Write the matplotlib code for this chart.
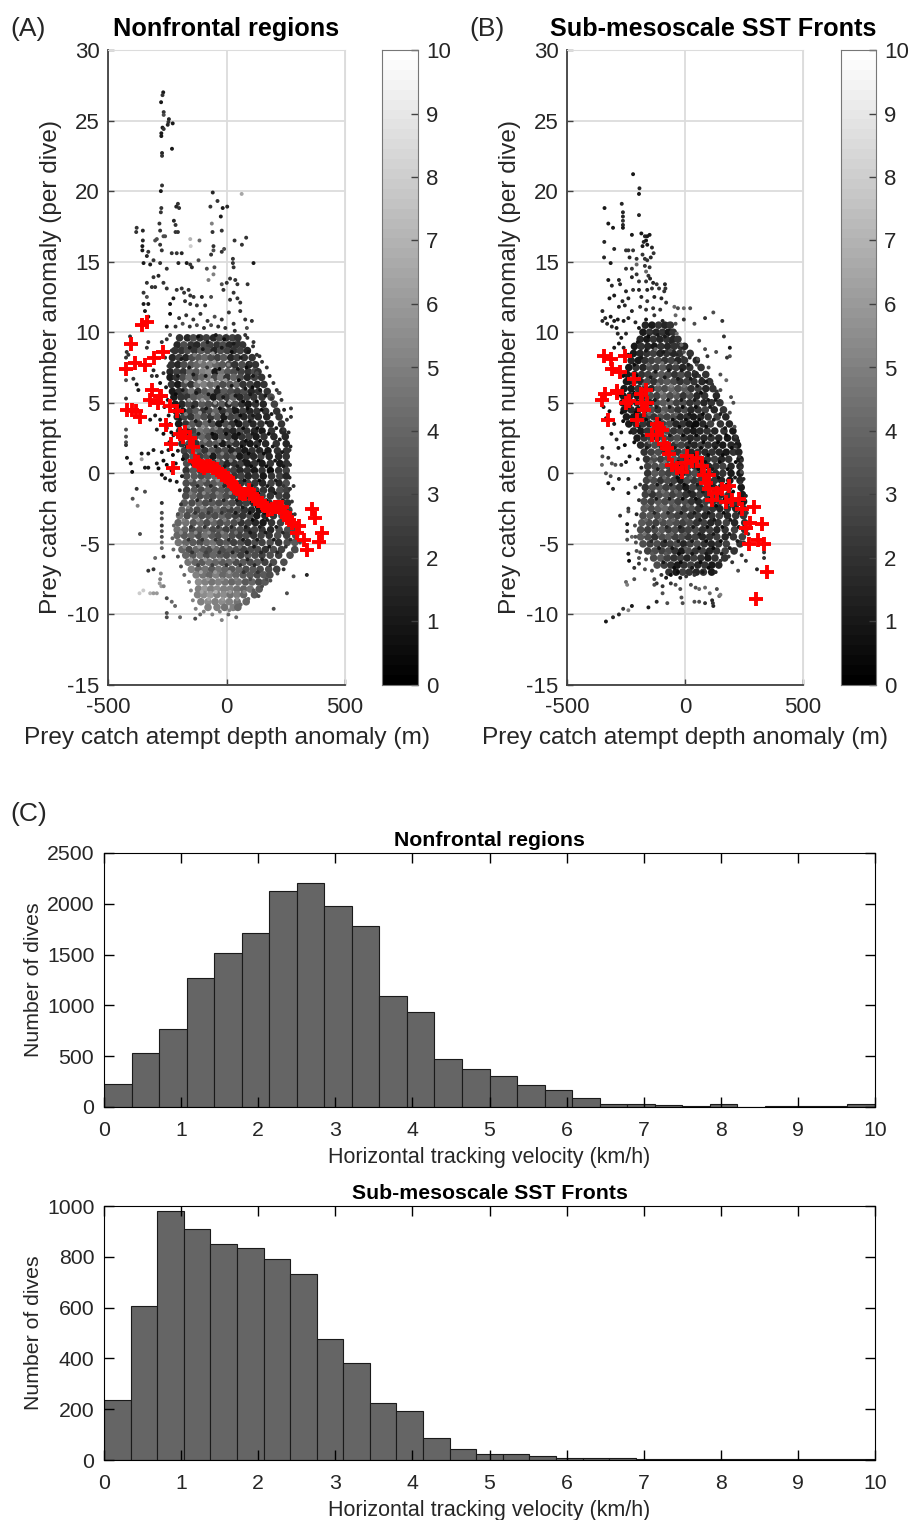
import matplotlib
matplotlib.use('Agg')
import matplotlib.pyplot as plt
import numpy as np

plt.rcParams['font.family'] = ['Liberation Sans', 'DejaVu Sans']
plt.rcParams['axes.unicode_minus'] = False

W, H = 910, 1520

# isolated dots: (depth, number, colour value)
A_sparse = [
(-267,27,1),(-270,26.8,2),(-276,26.3,1),(-265,25.6,2),(-265,25.4,3),(-243,25.1,1.5),(-245,24.9,2),(-248,24.7,1.5),(-227,24.8,1),(-270,24.5,1),
(-265,24.4,2),(-275,24.1,1),(-275,23.9,1),(-230,23,1),(-272,22.7,1.5),(-272,22.5,2),(-272,20.4,2),(-277,20,1),(-275,18.8,2),(-277,18.5,2),
(-58,19.9,1.5),(-38,19.3,2),(-68,18.9,2),(-16,18.8,1),(3,18.9,1.5),(-24,18.2,1),(-205,19.1,2),(-200,18.8,2),(-212,18.9,1.5),(64,19.8,6.5),
(-222,17.9,1.5),(-215,17.6,2),(-215,17.1,2),(-205,17.1,2),(-379,17.4,2),(-381,17.1,2),(-353,17.2,1.5),(-353,16.5,1.5),(-355,16.1,1),(-355,15.8,1),
(-330,15.7,2),(-336,15.4,1.5),(-350,14.9,1),(-322,14.8,1),(-308,15.1,2),(-283,17.7,2),(-280,17.2,2),(-301,16.5,3),(-294,16.6,3),(-280,16.2,2),
(-266,16.8,3),(-259,16.8,3),(-273,15.8,2),(-280,14.9,2),(-252,14.5,2),(-231,15.6,2),(-210,15.6,2),(-189,15.6,1.5),(-203,14.9,1.5),(-168,14.9,1),
(-153,14.8,2),(-146,14.6,1.5),(-153,16.6,7),(-151,16.1,8),(-114,16.5,4),(-118,15.1,3),(-83,14.5,3),(-51,14.6,3),(-55,14.1,5),(-76,13.7,5),
(-62,17.7,5),(-59,17.1,2),(-20,17.2,2),(-55,16.1,2),(-55,15.8,3),(-65,15.5,2),(-20,15.7,2),(-10,15.9,3),(34,16.5,2),(83,16.7,2),
(65,16.2,2),(27,15.2,2),(27,14.9,2),(30,14.6,2),(114,14.9,1),(89,13.4,2),(15,13.8,2),(1,13.5,2),(37,13.7,2),(46,13.4,2),
(-20,13.4,3),(-13,13,2),(30,12.8,2),(46,12.4,2),(15,12.3,2),(58,12.1,2),(-315,13.2,2),(-336,13.5,2),(-308,13.9,2),(-287,14,1.5),
(-266,13.5,2),(-301,13.2,2),(-350,12.8,2),(-336,12.5,3),(-350,12,1),(-330,12,1),(-252,13.1,2),(-224,12.4,1),(-238,12,1),(-210,13,2),
(-189,13.1,2),(-179,12.8,2),(-160,13,2),(-153,12.6,2),(-139,12.5,2),(-175,12.2,2),(-153,12,2),(-125,11.9,2),(-104,12.5,1.5),(-90,11.9,2),
(-65,12.5,3),(-344,11.5,1),(-238,11.3,0.5),(-330,11.1,1),(-252,10.4,1),(58,11.5,2),(79,10.9,2),(107,10.8,2),(86,10.3,3),(79,9.8,2),
(114,9.3,2),(51,9.3,2),(93,8.6,1),(139,8.3,2),(100,7.8,2),(128,7.1,3),(156,6.3,2),(220,5.7,3),(191,5.3,2),(224,5.7,3),
(272,4.6,2),(272,4,2),(241,3.1,2),(266,1.65,2),(283,-0.9,2),(339,-7.2,1.5),(255,-8.5,3),(199,-9.6,3),(283,-7.3,3),(241,-6.8,2),
(170,-7.5,3),(135,-8.7,3),(-424,3.1,3),(-424,2.6,3),(-424,2.2,3),(-424,2,2),(-420,1.1,1),(-404,0.7,1),(-398,0.1,0.5),(-358,1.4,1),
(-358,1,6),(-344,0.4,1),(-330,0.4,1),(-294,0.7,1),(-287,0.35,0.5),(-330,1.4,1),(-308,1.65,1),(-273,1.5,1),(-266,0.9,0.5),(-252,0.6,0.5),
(-273,-0.1,0.5),(-259,-0.35,1),(-238,-0.5,1),(-379,-1.1,2),(-344,-1.3,3),(-396,-1.8,3),(-375,-2.3,5),(-365,-4.3,3),(-273,-2.1,2),(-273,-2.8,3),
(-273,-3.2,3),(-273,-3.7,2),(-273,-4.1,3),(-273,-4.5,3),(-273,-4.9,4),(-273,-5.3,4),(-330,-6.9,2),(-308,-6.8,2),(-266,-5.9,2),(-301,-6,4),
(-277,-7.1,5),(-280,-7.5,5),(-282,-7.8,6),(-275,-8,6),(-265,-8,5),(-322,-8.5,7),(-308,-8.5,6),(-294,-8.5,6),(-367,-8.5,8),(-351,-8.3,8),
(-252,-8.85,3),(-231,-9.1,4),(-217,-9.4,4),(-252,-9.9,3),(-252,-10.2,3),(-196,-10.2,4),(-132,-10.3,3),(-20,-10.4,5),(41,-10.2,4),(8,-10,4),
(-111,-10,4),(-407,9.7,2),(-421,8.6,2),(-424,8.2,2),(-414,8.4,2),(-336,8.9,2),(-330,9.3,2),(-379,6.3,1),(-372,5.9,1),(-424,5.3,2),
(-424,6.6,3),(-393,6.7,2),(-308,7.3,1.5),(-294,6.9,1.5),(-273,9.3,2),(-252,9.5,2),(-259,8.2,2),(-238,9.8,3),(-280,6.4,1),(-266,7.1,2),
(-245,7.6,2),(-315,6.9,2),(-231,8.7,2),(-322,3.8,1),(-301,4.1,1),(-280,3.8,1),(-294,3.1,1),(-266,2.8,0.5),(-238,3.5,1),(-224,2.7,1),
(-245,1.65,1),(-200,11,2),(-170,11.2,2),(-140,10.9,2),(-110,11.3,2),(-80,10.8,2),(-50,11.1,3),(-20,10.9,2),(10,11.4,2),(30,10.6,2),
(-215,10.4,2),(-185,10.6,3),(-155,10.4,2),(-125,10.5,3),(-95,10.3,2),(-65,10.5,3),(-35,10.4,2),(-5,10.3,2),(35,10.1,2),
]

# fine dots on top of the dense part of panel A
A_specks = [
(-255,6.1,1),(-248,5.2,1),(-262,4.7,0.5),(-244,4.1,1),(-252,3.2,1),(-233,2.9,0.5),(-241,2.2,1),(-226,1.3,0.5),(-214,0.7,1),(-205,1.6,1),
(-232,0.2,1),(-210,-0.6,1),(-197,-1.2,1.5),(-188,-0.2,1),(-184,1,0.5),(-192,-2.2,2),(-205,-2.9,3),(-222,-3.7,4),(-228,-4.6,4),(-224,-5.4,4),
(-205,-5.9,3),(-192,-6.6,3),(-178,-7.2,4),(-158,-7.7,5),(-150,-8.3,5),(-142,-9,5),(-130,-9.6,5),(-96,-9.8,5),(-60,-10,5),(-28,-9.8,5),
(12,-9.7,5),(60,-9.3,4),(92,-8.9,4),(115,-8.3,3.5),(150,-8,3),(185,-7.6,3),(215,-7.1,3),(240,-6.2,3),(268,-5.9,3),(295,-5.5,3),
(310,-4.9,3),(300,-3.7,2.5),(288,-2.9,2),(276,-2,2),(268,-1.1,2),(266,-0.3,1.5),(268,0.6,2),(270,1.9,1.5),(262,2.9,1.5),(255,3.8,2),
(243,4.5,1.5),(232,5.2,2),(212,5.9,2),(198,6.4,2),(182,6.9,1.5),(170,7.5,2),(150,7.9,2),(128,8.4,2),(112,9,2),(88,9.6,2),
(-120,9.7,0.5),(-80,9.3,1),(-45,9.8,1),(-10,9.5,0.5),(30,9.2,1),(-155,8.9,1),(-135,8.4,5),(-100,8.8,1),(-58,8.5,6),(-20,8.9,1),
(22,8.6,0.5),(60,8.2,1),(-190,8.1,1),(-158,7.5,1),(-112,7.9,6),(-82,7.5,2),(-52,7.9,6),(-30,7.4,0.5),(8,7.7,5),(48,7.4,1),
(84,7.5,0.5),(112,6.9,1),(-205,6.9,1),(-172,6.5,6),(-140,7,1),(-115,6.5,7),(-88,6.9,1),(-62,6.6,7),(-36,6.1,1),(-4,6.6,6),
(22,6.2,1),(52,6.6,0.5),(80,6,1),(110,6.1,0.5),(142,5.9,1),(-214,5.6,0.5),(-185,5.9,1),(-158,5.2,6),(-128,5.7,1),(-102,5.2,6),
(-76,5.6,1),(-48,5,6),(-14,5.4,1),(12,5,6),(38,5.5,1),(70,5.1,0.5),(100,5.6,1),(128,5.1,0.5),(165,5.5,1),(-202,4.7,0.5),
(-172,4.2,5),(-142,4.7,1),(-112,4.3,6),(-86,4.6,1),(-58,4.2,5.5),(-28,4.6,0.5),(2,4.2,5),(30,4.6,1),(58,4.1,0.5),(88,4.6,0.5),
(112,4.1,1),(148,4.5,0.5),(190,4.2,1),(-196,3.8,1),(-160,3.3,5),(-130,3.7,1),(-100,3.3,5.5),(-72,3.7,1),(-44,3.2,5),(-18,3.7,0.5),
(12,3.3,5),(40,3.7,0.5),(70,3.2,0.5),(98,3.7,1),(130,3.2,0.5),(168,3.6,1),(210,3.2,1),(-182,2.8,1),(-148,2.3,5),(-118,2.8,1),
(-90,2.3,5),(-60,2.8,0.5),(-30,2.3,5),(-2,2.8,0.5),(24,2.3,5),(52,2.8,0.5),(82,2.3,0.5),(110,2.8,1),(142,2.3,0.5),(178,2.8,0.5),
(225,2.4,1),(-168,1.9,1),(-132,1.4,5),(-102,1.9,0.5),(-74,1.4,5),(-46,1.9,0.5),(-18,1.4,5),(10,1.9,0.5),(36,1.4,5),(64,1.9,0.5),
(94,1.4,0.5),(125,1.9,0.5),(158,1.4,0.5),(195,1.9,1),(235,1.5,1),(-158,0.9,5),(-120,0.5,1),(-92,0.9,5),(-64,0.5,1),(-36,0.9,5),
(-8,0.5,1),(18,0.9,5),(46,0.5,1),(74,0.9,1),(104,0.5,0.5),(135,0.9,0.5),(168,0.5,0.5),(205,0.9,1),(240,0.5,1),(-150,-0.5,5),
(-122,-0.9,1.5),(-94,-0.5,5),(-66,-0.9,1.5),(-38,-0.5,5.5),(-10,-0.9,1.5),(18,-0.5,5),(46,-0.9,1),(76,-0.5,0.5),(106,-0.9,1),(138,-0.5,0.5),
(172,-0.9,1),(208,-0.5,1),(240,-0.9,2),(-152,-1.4,5),(-124,-1.9,1.5),(-96,-1.4,5.5),(-68,-1.9,2),(-40,-1.4,5),(-12,-1.9,1.5),(16,-1.4,5),
(44,-1.9,1),(74,-1.4,1),(104,-1.9,0.5),(134,-1.4,0.5),(168,-1.9,1),(205,-1.4,1),(238,-1.9,1),(-162,-2.4,5),(-132,-2.8,2),(-104,-2.4,5.5),
(-76,-2.8,2),(-48,-2.4,5),(-20,-2.8,2),(8,-2.4,5),(38,-2.8,1),(68,-2.4,1),(98,-2.8,0.5),(128,-2.4,0.5),(160,-2.8,0.5),(196,-2.4,1),
(-182,-3.3,5),(-150,-3.8,2),(-120,-3.3,5.5),(-92,-3.8,2),(-64,-3.3,5.5),(-36,-3.8,2),(-8,-3.3,5),(20,-3.8,1.5),(50,-3.3,4.5),(80,-3.8,1),
(110,-3.3,0.5),(140,-3.8,1),(172,-3.3,1),(210,-3.8,1),(248,-3.3,1.5),(-192,-4.2,5.5),(-160,-4.7,2),(-130,-4.2,5.5),(-102,-4.7,2),(-74,-4.2,5.5),
(-46,-4.7,2),(-18,-4.2,5),(10,-4.7,1.5),(40,-4.2,4.5),(70,-4.7,1),(100,-4.2,1),(130,-4.7,1),(165,-4.2,1),(200,-4.7,1),(238,-4.2,1.5),
(270,-4.7,2),(-178,-5.2,5.5),(-145,-5.6,2),(-115,-5.2,6),(-86,-5.6,2.5),(-58,-5.2,5.5),(-30,-5.6,2),(-2,-5.2,5),(26,-5.6,1.5),(56,-5.2,4.5),
(86,-5.6,1),(116,-5.2,1),(146,-5.6,1.5),(180,-5.2,1),(214,-5.6,1.5),(250,-5.2,2),(-150,-6.1,6),(-120,-6.5,2.5),(-90,-6.1,6),(-60,-6.5,2.5),
(-30,-6.1,5.5),(0,-6.5,2),(28,-6.1,5),(58,-6.5,2),(88,-6.1,1.5),(118,-6.5,1.5),(150,-6.1,1.5),(185,-6.5,2),(-108,-7,6.5),(-78,-7.5,6),
(-48,-7,6),(-18,-7.5,5.5),(12,-7,6),(40,-7.5,5),(72,-7,2),(100,-7.5,3),(132,-7,2),(-105,-8.4,6.5),(-75,-8.9,6.5),(-45,-8.4,7),
(-15,-8.9,6),(15,-8.4,6),(45,-8.9,5.5),(75,-8.4,5),
]

# red averages, panel A
A_red_x = [-421,-400,-383,-365,-358,-337,-404,-424,-386,-344,-306,-266,-315,-276,-322,-287,-280,-238,-210,-255,-234,-224,-196,-175,-182,-153,-142,
           -132,-122,-114,-105,-97,-83,-69,-55,-41,-30,-20,-6,8,18,30,44,58,68,79,93,107,121,135,149,163,177,190,206,220,234,245,255,265,276,304,297,325,339,360,375,403,389]
A_red_y = [4.5,4.5,4.4,4.0,10.5,10.7,9.2,7.4,7.8,7.7,8.2,8.6,5.9,5.5,5.2,5,5.5,4.8,4.4,3.4,2.1,0.4,2.8,2.9,2.6,2.5,1.9,
           0.9,0.8,0.6,0.5,0.4,0.5,0.5,0.4,0.3,0.1,-0.1,-0.2,-0.35,-0.6,-0.9,-1.1,-1.4,-1.45,-1.5,-1.2,-1.5,-1.8,-1.95,-2.1,-2.3,-2.6,-2.5,-2.4,-2.4,-2.4,-2.8,-3.1,-3.3,-3.5,-3.7,-4.2,-4.7,-5.4,-2.5,-3.2,-4.2,-4.9]

# red averages, panel B
B_red_x = [-343,-315,-254,-308,-277,-216,-339,-287,-167,-188,-350,-287,-251,-237,-181,-160,-174,-325,-202,-120,-110,-96,-138,-117,-89,-78,-68,-54,-32,-14,3,10,31,52,71,80,102,88,100,116,137,158,186,172,200,229,240,292,257,275,328,271,311,335,349,302]
B_red_y = [8.3,8.1,8.35,7.4,7.2,6.7,5.6,5.8,5.9,5.6,5.2,5.7,5,5.1,5,5,4.5,3.8,3.8,3.5,3.2,3.1,2.7,2.7,2.1,1.8,1.4,0.6,0.4,0.1,0.7,1.2,0.9,1.1,0.5,-0.1,-0.1,-0.7,-1.1,-1.9,-1.4,-1.1,-0.9,-2,-1.9,-1.8,-2.5,-2.4,-3.9,-3.5,-3.6,-5,-4.7,-5,-7,-8.9]

# isolated dots
B_sparse = [
(-220,21.2,1),(-193,20.2,1.5),(-195,19.8,1),(-341,18.8,1),(-268,19.1,1.5),(-263,18.5,1.5),(-263,18.2,1.5),(-263,17.9,2),(-263,17.6,1.5),(-263,17.4,1),
(-195,18.3,1.5),(-325,17.7,1),(-305,17.4,1),(-342,16.4,1.5),(-225,16.9,1),(-185,17,1),(-170,16.8,1.5),(-160,16.8,1),(-150,16.9,1),(-175,16.4,1.5),
(-165,16.5,1),(-180,16.1,1),(-160,16.2,1),(-140,16,1.5),(-133,15.6,2),(-300,15.9,1.5),(-250,15.8,2),(-240,15.8,2),(-220,15.8,2),(-343,15.3,1.5),
(-315,14.9,1),(-235,15.3,1.5),(-205,15.2,2),(-180,15.5,2),(-170,15.2,2),(-160,15.1,2),(-145,15.3,1.5),(-225,14.5,2),(-250,14.5,2),(-205,14.8,4),
(-170,14.7,2),(-150,14.6,2),(-165,14.3,4),(-155,14,2),(-225,13.9,1.5),(-205,14.1,2),(-325,13.7,1),(-280,13.7,1.5),(-275,13.4,1.5),(-195,13.6,2),
(-165,13.6,2),(-148,13.8,1.5),(-135,13.5,1.5),(-120,13.4,2),(-85,13.4,1.5),(-83,13.1,2),(-310,13.3,1.5),(-250,12.9,1.5),(-220,13,2),(-195,13,1.5),
(-160,13,1.5),(-140,13.1,2),(-110,13.1,2),(-88,12.9,2),(-300,12.6,1),(-320,12.4,1),(-265,12.2,1.5),(-240,12.4,1.5),(-185,12.5,1.5),(-160,12.2,2),
(-130,12.5,1.5),(-100,12.4,1.5),(-80,12.1,2),(-280,11.8,1.5),(-255,11.9,1.5),(-225,11.5,1.5),(-190,11.8,2),(-165,11.6,2),(-135,11.7,2),(-105,11.6,2),
(-45,11.8,4),(-30,11.7,3),(-5,11.7,4),(22,11.7,3),(-40,11.2,4),(-350,11.5,1.5),(-338,11,1.5),(-315,11.1,1),(-300,10.8,1),(-285,10.9,1),
(-350,10.8,1.5),(-330,10.6,1.5),(-310,10.4,1.5),(-290,10.3,1),(-260,10.8,1),(-240,11,1.5),(-210,10.7,1.5),(-285,9.9,1.5),(-270,9.6,1),(-250,9.9,1.5),
(-300,8.9,1),(-280,9.2,1),(-260,8.9,1.5),(-15,9.1,4),(-5,8.6,3),(-35,9.9,4),(-40,10.6,3),(-5,10.9,2),(40,10.6,3),(85,11,2),
(120,11.4,3),(158,10.8,2),(165,9.7,2),(60,9.4,3),(85,8.8,3),(132,8.6,3),(190,8.9,1),(178,8.2,2),(190,8.3,3),(95,8.3,2),
(55,8.1,3),(50,7.7,3),(100,7.5,3),(150,7,3),(175,6.6,4),(85,7.1,2),(60,6.9,2),(115,6.3,2),(150,5.9,3),(135,5.8,2),
(195,5.4,3),(205,5,3),(190,4.3,3),(210,3.3,3),(215,2.6,2),(215,1.9,2),(230,1.2,2),(240,0.9,2),(240,0.1,3),(235,-0.7,2),
(-350,1.8,1.5),(-350,1.2,3),(-352,0.6,4),(-325,1.1,2),(-310,0.7,3),(-295,0.6,3),(-270,0.6,2),(-250,0.8,1),(-335,0.0,3),(-315,-0.2,3),
(-280,-0.4,1.5),(-240,-0.4,1.5),(-325,-0.7,1),(-305,-1.1,1.5),(-240,-1.4,1),(-210,-1,2),(-240,-2.5,2),(-240,-2.7,3),(-275,-3,2),(-245,-3.6,1),
(-245,-4.1,2),(-245,-4.7,3),(-225,-4.5,4),(-210,-4.5,3),(-240,-5.7,1),(-237,-6.2,0.5),(-205,-5.5,3),(-195,-6,3),(-195,-6.4,2),(-215,-6.7,2),
(-170,-6.8,3),(-250,-7.7,4),(-245,-7.9,5),(-215,-7.5,3),(-130,-7.5,3),(-120,-7.8,2),(-95,-8,2),(-95,-8.5,3),(-130,-7.9,3),(-60,-7.8,2),
(-40,-7.9,3),(-20,-8.2,3),(25,-7.9,3),(45,-8.1,3),(60,-8.2,4),(85,-8.1,4),(105,-8.5,4),(135,-8.2,3),(145,-8.7,4),(150,-8.6,5),
(-15,-8.8,3),(-10,-9.2,3),(40,-9.1,3),(60,-9.1,3),(85,-9.2,2),(115,-9.0,1.5),(120,-9.4,1.5),(118,-9.2,2),(-120,-9.1,1.5),(-75,-9.2,3),
(-155,-9.5,1),(-225,-9.4,1),(-240,-9.7,5),(-262,-9.6,2),(-280,-10,1.5),(-305,-10.2,1.5),(-335,-10.5,1),(200,-6.3,2),(225,-6.9,3),(305,-6.8,1.5),
(335,-5.6,2),(335,-6,2),(258,-6.2,2),(240,-5.8,2),
]

# fine dots on top of the dense part of panel B
B_specks = [
(-345,4.7,1),(-335,3.9,1),(-320,4.4,0.5),(-300,3.5,1),(-312,2.8,1),(-290,2.4,1.5),(-270,2.9,1),(-282,1.8,1),(-255,2,0.5),(-235,1.2,1),
(-262,3.7,0.5),(-232,2.9,1),(-215,2.2,0.5),(-200,1,1),(-185,0.4,1),(-190,-0.8,2),(-195,-1.9,2),(-205,-2.9,1.5),(-212,-3.7,3),(-208,-4.9,3),
(-190,-5.6,3),(-165,-6.1,3),(-140,-6.9,3),(-100,-7.2,2),(-80,-7.4,1),(-20,-7.4,1),(5,-7.3,2),(40,-7.2,2),(75,-7,1),(130,-7,1.5),
(150,-6.2,2),(185,-5.9,2),(215,-5.4,2),(250,-4.9,2),(268,-4.3,2),(262,-2.8,2),(258,-1.6,1.5),(248,-0.4,1.5),(238,0.4,2),(225,2.3,1.5),
(-165,10.9,1),(-130,11.2,2),(-95,10.8,1.5),(-70,10.6,2),(-195,10.3,1),(-155,9.7,0.5),(-115,9.8,1),(-85,9.7,1),(-60,9.3,1.5),(-32,9.1,2),
(-200,9.3,1),(-165,8.7,1),(-125,8.8,4),(-92,8.6,1),(-62,8.7,3),(-35,8.4,1.5),(-8,8.2,2),(20,8.2,1.5),(-240,8.4,1),(-215,7.7,0.5),
(-185,8.2,1),(-155,7.7,4),(-125,7.2,1),(-96,7.8,4.5),(-68,7.3,1),(-40,7.8,4),(-14,7.3,1),(14,7.7,1),(38,7.2,2),(70,6.7,1.5),
(-262,6.9,0.5),(-235,6.4,1),(-205,6.9,0.5),(-175,6.3,4),(-145,6.8,1),(-115,6.3,5),(-86,6.8,1),(-58,6.2,5),(-30,6.7,1),(-4,6.2,4.5),
(24,6.7,1),(52,6.2,1),(90,6.5,1),(-275,5.6,0.5),(-245,5.2,1),(-215,5.7,0.5),(-185,5.2,1),(-158,5.7,4),(-128,5.2,1),(-100,5.7,5),
(-72,5.2,1),(-44,5.7,4.5),(-16,5.2,1),(12,5.7,4),(40,5.2,1),(68,5.7,0.5),(98,5.2,1),(130,5.2,1),(-268,4.3,0.5),(-240,4.7,1),
(-210,4.3,0.5),(-182,4.7,1),(-152,4.2,4),(-122,4.7,1),(-94,4.3,4.5),(-66,4.7,1),(-38,4.2,4),(-10,4.7,0.5),(18,4.2,1),(46,4.7,0.5),
(76,4.2,0.5),(106,4.7,1),(150,4.2,1),(-225,3.7,0.5),(-195,3.3,1),(-165,3.8,0.5),(-136,3.3,4),(-108,3.8,1),(-80,3.3,4),(-52,3.8,0.5),
(-24,3.3,0.5),(4,3.8,0.5),(32,3.3,0.5),(60,3.8,0.5),(90,3.3,0.5),(122,3.8,1),(170,3.2,1),(-180,2.7,1),(-150,2.2,4),(-120,2.7,1),
(-92,2.2,4),(-64,2.7,1),(-36,2.2,4),(-8,2.7,0.5),(20,2.2,1),(48,2.7,0.5),(78,2.2,0.5),(108,2.7,1),(140,2.2,0.5),(175,2.7,0.5),
(-162,1.8,1),(-130,1.2,4),(-100,1.8,1),(-72,1.3,4.5),(-44,1.8,1),(-16,1.3,4),(12,1.8,0.5),(40,1.3,1),(68,1.8,0.5),(98,1.3,0.5),
(128,1.8,1),(160,1.3,0.5),(198,1.8,0.5),(-145,0.8,4),(-115,0.3,1),(-85,0.8,4.5),(-57,0.3,1),(-29,0.8,0.5),(0,0.3,0.5),(28,0.8,1),
(56,0.3,0.5),(86,0.8,0.5),(116,0.3,1),(146,0.8,0.5),(180,0.3,0.5),(215,0.8,0.5),(-148,-0.3,4),(-118,-0.8,1),(-88,-0.3,4),(-60,-0.8,1),
(-32,-0.3,0.5),(-4,-0.8,0.5),(24,-0.3,4),(52,-0.8,1),(82,-0.3,0.5),(112,-0.8,1),(142,-0.3,0.5),(176,-0.8,0.5),(212,-0.3,1),(-152,-1.3,4),
(-122,-1.8,1),(-94,-1.3,4.5),(-66,-1.8,1),(-38,-1.3,4),(-10,-1.8,0.5),(18,-1.3,1),(46,-1.8,0.5),(76,-1.3,1),(106,-1.8,0.5),(136,-1.3,1),
(168,-1.8,0.5),(204,-1.3,0.5),(228,-1.8,0.5),(-160,-2.3,4),(-130,-2.8,1.5),(-100,-2.3,4.5),(-72,-2.8,1.5),(-44,-2.3,4),(-16,-2.8,1),(12,-2.3,4),
(40,-2.8,1),(70,-2.3,1),(100,-2.8,0.5),(132,-2.3,0.5),(164,-2.8,0.5),(198,-2.3,1),(232,-2.8,1),(-165,-3.3,4),(-135,-3.8,1.5),(-105,-3.3,4),
(-78,-3.8,1.5),(-50,-3.3,4),(-22,-3.8,1),(6,-3.3,3.5),(34,-3.8,1),(64,-3.3,1),(94,-3.8,0.5),(124,-3.3,1),(158,-3.8,0.5),(192,-3.3,1),
(228,-3.8,1),(-172,-4.3,4.5),(-142,-4.8,1.5),(-112,-4.3,4),(-84,-4.8,1),(-56,-4.3,4),(-28,-4.8,1),(0,-4.3,3.5),(30,-4.8,1),(60,-4.3,1),
(90,-4.8,0.5),(120,-4.3,1),(152,-4.8,0.5),(188,-4.3,1),(222,-4.8,1),(-140,-5.7,3.5),(-110,-5.3,1),(-82,-5.7,3.5),(-54,-5.3,1),(-26,-5.7,0.5),
(2,-5.3,3.5),(30,-5.7,1),(60,-5.3,0.5),(90,-5.7,1),(120,-5.3,0.5),(155,-5.7,1),(190,-5.3,1),(-92,-6.3,1),(-46,-6.7,0.5),(-18,-6.3,0.5),
(30,-6.7,1),(66,-6.3,0.5),(100,-6.7,0.5),(-60,-7.2,0.5),(-30,-7,0.5),
]

# dense part of panel A, read row by row: (number, [(depth, colour value), ...])
# the dots overlap here so they are drawn bigger than the isolated ones
A_core = [
(9.6,[(-198,2),(-165,1.5),(-140,3),(-112,2),(-85,2.5),(-55,1.5),(-30,3),(-2,2),(25,2.5),(48,2)]),
(9.1,[(-208,1.5),(-180,3),(-150,2),(-125,1.5),(-95,3),(-70,2.5),(-40,2),(-15,3),(12,1.5),(40,2),(68,2)]),
(8.7,[(-218,2),(-190,2),(-165,3),(-135,2),(-108,3.5),(-80,3),(-52,1.5),(-25,3),(3,2.5),(30,2),(58,2.5),(88,1.5)]),
(8.2,[(-228,1.5),(-200,2.5),(-172,1.5),(-145,3),(-118,3.5),(-92,4),(-65,3),(-38,2.5),(-12,3.5),(18,1.5),(45,2.5),(75,2),(108,2)]),
(7.7,[(-232,2),(-205,1.5),(-180,3),(-150,3.5),(-125,4),(-98,4.5),(-70,5),(-45,4),(-18,3.5),(10,3),(35,2),(65,3),(95,1.5),(122,2)]),
(7.2,[(-238,1.5),(-210,2.5),(-182,2),(-155,4),(-128,3.5),(-100,5),(-75,5.5),(-48,1),(-22,4.5),(5,3.5),(32,3),(62,2.5),(92,2),(118,3),(133,2)]),
(6.8,[(-238,1),(-212,2),(-185,3),(-158,4.5),(-130,3),(-105,4),(-78,5),(-50,3),(-25,5),(2,2),(30,4),(58,3),(88,1.5),(118,2.5),(148,2)]),
(6.3,[(-232,2),(-205,1),(-178,3),(-150,2),(-124,4.5),(-96,5),(-68,4),(-42,4.5),(-15,3),(14,3.5),(42,4),(70,2),(100,2.5),(130,1.5),(158,2)]),
(5.8,[(-228,1),(-200,2),(-175,3),(-148,4.5),(-120,2),(-92,3.5),(-65,4.5),(-38,1.5),(-10,3.5),(18,3),(46,2.5),(75,3),(105,1.5),(135,2),(172,2)]),
(5.4,[(-222,1),(-192,2),(-165,2),(-138,3.5),(-110,4),(-82,4),(-55,1),(-28,3),(0,2.5),(28,4),(56,1.5),(85,2.5),(115,2),(150,2),(188,3)]),
(4.9,[(-216,1),(-188,1.5),(-160,3),(-132,2),(-104,3.5),(-76,3),(-48,2.5),(-20,3.5),(8,1.5),(36,3),(64,2),(92,1),(122,2),(155,1.5),(202,2.5)]),
(4.4,[(-212,1.5),(-184,1),(-156,2.5),(-128,3.5),(-100,2),(-72,3),(-44,4),(-16,2),(12,3),(40,1),(68,2.5),(98,1.5),(128,2),(165,2),(212,2)]),
(4.0,[(-208,1.5),(-178,2.5),(-150,2),(-122,4),(-94,3),(-66,2),(-38,3.5),(-10,1),(18,2.5),(46,3),(74,1.5),(104,2),(134,1.5),(170,1.5),(222,2)]),
(3.5,[(-202,1),(-172,2),(-144,3.5),(-116,2.5),(-88,4),(-60,3),(-32,1),(-4,3),(24,2),(52,1),(82,2.5),(112,1.5),(145,2),(185,1.5),(232,2)]),
(3.0,[(-198,2),(-168,1.5),(-140,2.5),(-112,4.5),(-84,4),(-56,3.5),(-28,3),(0,2),(28,1.5),(56,3),(86,2),(118,1.5),(150,1),(190,2),(238,1.5)]),
(2.6,[(-192,2.5),(-162,2),(-132,3),(-104,4),(-76,3),(-48,1),(-20,3),(8,2.5),(36,1),(64,2),(94,2.5),(125,1),(158,2),(200,1.5),(248,1.5)]),
(2.1,[(-188,2),(-158,3),(-128,2),(-100,3.5),(-72,3),(-44,3.5),(-16,1),(12,3),(40,2),(70,1.5),(100,1),(130,2),(165,1.5),(210,2),(252,1.5)]),
(1.6,[(-178,2.5),(-148,3),(-118,3.5),(-90,2),(-62,3.5),(-34,2.5),(-6,3),(22,1.5),(50,2),(78,1),(108,2),(140,1.5),(175,1),(215,2),(253,2)]),
(1.2,[(-172,2),(-142,3.5),(-112,2.5),(-84,3),(-56,1),(-28,3),(0,2.5),(28,3),(56,1),(84,2),(114,1.5),(145,2.5),(180,1.5),(220,1.5),(252,2)]),
(0.7,[(-168,3),(-138,2),(-108,3),(-80,3.5),(-52,2.5),(-24,3),(4,1.5),(32,2),(60,2.5),(88,1),(118,2),(150,1),(185,2),(225,1),(253,2)]),
(0.2,[(-170,2),(-140,3.5),(-110,2.5),(-82,3),(-54,3),(-26,2),(2,3),(30,2.5),(58,1.5),(88,2),(118,1),(150,2),(185,0.5),(220,2),(252,2.5)]),
(-0.2,[(-168,3),(-136,3.5),(-106,3),(-78,3.5),(-50,4),(-22,3),(6,2.5),(34,2),(62,2.5),(92,1.5),(122,2),(155,1),(190,2),(225,2.5),(252,1.5)]),
(-0.7,[(-170,3),(-140,3),(-110,4),(-82,3),(-54,3.5),(-26,4),(2,2),(30,3),(60,2),(90,2.5),(120,2),(152,1.5),(188,2.5),(222,1.5),(252,3)]),
(-1.2,[(-168,2.5),(-136,3.5),(-106,3),(-78,4),(-50,3),(-22,3.5),(6,3),(34,2.5),(64,2),(94,1.5),(124,2.5),(156,2),(190,1.5),(225,3),(253,2.5)]),
(-1.6,[(-172,3),(-142,4),(-112,3),(-84,3.5),(-56,3),(-28,4),(0,3),(28,2.5),(58,3),(88,2),(118,1.5),(150,2.5),(185,2),(222,2.5),(253,2)]),
(-2.1,[(-178,3.5),(-146,3),(-116,4),(-88,3),(-60,3.5),(-32,3),(-4,3.5),(24,3),(54,2),(84,2.5),(114,1.5),(146,1),(180,2),(220,3),(258,2)]),
(-2.6,[(-188,4),(-156,3.5),(-124,3),(-96,4),(-68,3),(-40,4),(-12,3),(16,2.5),(46,3),(76,2),(106,1.5),(138,1),(172,2),(210,2.5),(240,3),(263,2.5)]),
(-3.0,[(-198,4.5),(-166,3),(-134,4),(-104,3),(-76,3.5),(-48,3),(-20,4),(8,3),(38,2.5),(68,2),(98,3),(128,1),(162,1.5),(198,2),(234,3),(268,2)]),
(-3.5,[(-204,4),(-172,4.5),(-140,3.5),(-110,4),(-82,3),(-54,4),(-26,3),(2,3.5),(32,3),(62,2),(92,2.5),(122,1.5),(154,1),(190,2),(228,2.5),(278,3)]),
(-4.0,[(-208,4.5),(-176,4),(-144,3),(-114,3.5),(-86,4),(-58,3),(-30,3.5),(-2,2.5),(28,3),(58,3),(88,2),(118,2.5),(150,2),(186,1.5),(222,3),(258,3),(288,3)]),
(-4.4,[(-208,4),(-178,3.5),(-148,4),(-118,3),(-90,4.5),(-62,3.5),(-34,3),(-6,4),(24,3),(54,2.5),(84,3),(114,2),(146,2.5),(180,2),(216,3),(254,2.5),(292,3)]),
(-4.9,[(-203,4.5),(-172,4),(-142,3.5),(-112,3),(-84,4),(-56,4.5),(-28,3),(0,3.5),(30,2.5),(60,3),(90,2),(120,3),(150,2.5),(184,3),(220,2),(256,3),(288,3.5)]),
(-5.4,[(-188,4),(-158,3),(-128,4),(-100,3.5),(-72,3),(-44,4),(-16,3),(12,3.5),(42,3),(72,2.5),(102,3),(132,3),(164,2),(198,3),(232,2.5),(288,3)]),
(-5.8,[(-172,4),(-142,3.5),(-112,4.5),(-84,3),(-56,4),(-28,3.5),(0,3),(30,4),(60,2.5),(90,3.5),(120,3),(150,2.5),(184,3),(220,2.5),(268,3)]),
(-6.3,[(-162,4.5),(-132,4),(-102,3.5),(-74,4.5),(-46,4),(-18,3.5),(10,4),(40,3),(70,3.5),(100,3),(130,3.5),(162,2.5),(198,3),(242,3)]),
(-6.8,[(-148,5),(-118,4),(-90,4.5),(-62,3.5),(-34,4.5),(-6,4),(22,3.5),(52,4),(82,3),(112,3.5),(142,3),(178,3),(212,2.5)]),
(-7.2,[(-128,5),(-100,4.5),(-72,4),(-44,5),(-16,4),(12,4.5),(40,4),(70,3.5),(100,3.5),(130,3),(158,3.5),(183,3)]),
(-7.7,[(-118,5.5),(-90,5),(-62,4.5),(-34,5),(-6,4.5),(22,4),(50,4.5),(80,3.5),(108,4),(136,3),(163,3.5)]),
(-8.2,[(-118,5),(-92,6),(-66,5),(-40,5.5),(-12,5),(16,5),(44,4.5),(72,4),(100,4.5),(138,3.5)]),
(-8.6,[(-122,5),(-96,5.5),(-68,6),(-40,5),(-12,5.5),(16,4.5),(44,5),(72,4),(118,3.5)]),
(-9.1,[(-108,5),(-78,5.5),(-48,5),(-18,5.5),(12,5),(45,4.5),(83,4)]),
(-9.5,[(-78,5),(-40,5),(-8,4.5),(28,5),(48,4)]),
]

# dense part of panel B, same layout
B_core = [
(10.5,[(-168,1.5),(-140,1),(-112,2),(-85,1.5),(-62,2)]),
(10.0,[(-178,1),(-150,2),(-122,1.5),(-95,2),(-70,1),(-50,2)]),
(9.5,[(-190,1.5),(-162,1),(-134,2),(-106,1.5),(-78,2),(-50,1.5),(-30,2)]),
(9.0,[(-214,1),(-186,2),(-158,1.5),(-130,1),(-102,2),(-74,1.5),(-46,2),(-18,2),(-2,1.5)]),
(8.5,[(-218,1),(-190,1.5),(-162,2),(-134,2.5),(-106,1.5),(-78,2),(-50,1.5),(-22,2),(22,2)]),
(8.0,[(-228,1.5),(-198,1),(-170,2),(-142,2.5),(-114,3),(-86,2),(-58,2.5),(-30,1.5),(-2,2),(48,1.5)]),
(7.5,[(-238,1),(-208,2),(-178,1.5),(-150,3),(-122,2.5),(-94,3.5),(-66,2),(-38,2.5),(-10,1.5),(20,2),(68,2)]),
(7.0,[(-244,1),(-214,1.5),(-184,2),(-156,2.5),(-128,3),(-100,3.5),(-72,3),(-44,2),(-16,3),(12,2),(44,1.5),(88,2)]),
(6.5,[(-248,1),(-218,2),(-188,1.5),(-160,3),(-132,2),(-104,3),(-76,3.5),(-48,3),(-20,2),(8,2.5),(38,2),(72,1.5),(104,2)]),
(6.0,[(-258,1),(-228,1),(-198,2),(-170,2.5),(-142,1.5),(-114,3.5),(-86,3),(-58,4),(-30,3),(-2,3.5),(26,2),(56,2.5),(88,1.5),(118,2)]),
(5.5,[(-263,1),(-233,1.5),(-203,1),(-175,2),(-147,3),(-119,2.5),(-91,4),(-63,3),(-35,3.5),(-7,2),(21,3),(51,1.5),(83,2),(133,1.5)]),
(5.0,[(-264,1),(-234,1),(-204,1.5),(-176,2.5),(-148,1.5),(-120,3),(-92,3.5),(-64,4),(-36,2.5),(-8,3),(20,2),(50,2.5),(80,1.5),(112,2),(148,2)]),
(4.5,[(-258,1),(-228,1.5),(-198,1),(-170,2),(-142,3),(-114,2),(-86,3.5),(-58,3),(-30,2),(-2,3),(26,1.5),(56,2),(86,2.5),(124,1.5),(163,2)]),
(4.0,[(-248,1),(-218,1),(-188,1.5),(-160,2.5),(-132,2),(-104,3),(-76,2.5),(-48,3),(-20,1.5),(8,2),(36,1),(66,1.5),(98,2),(136,2.5),(173,1.5)]),
(3.5,[(-238,1),(-208,1.5),(-178,2),(-150,1.5),(-122,3),(-94,2.5),(-66,3),(-38,1.5),(-10,2),(18,1),(46,0.5),(76,1.5),(108,2.5),(150,2),(188,1.5)]),
(3.0,[(-218,1.5),(-188,1),(-160,2),(-132,2.5),(-104,2),(-76,3),(-48,2),(-20,2.5),(8,1.5),(36,1),(64,1.5),(94,2),(126,1.5),(165,2),(203,1)]),
(2.5,[(-203,1),(-173,2),(-145,2.5),(-117,2),(-89,3),(-61,2.5),(-33,3),(-5,2),(23,1.5),(51,2),(81,1.5),(111,2),(143,1.5),(180,1),(213,1.5)]),
(2.0,[(-188,1.5),(-158,2),(-128,3),(-100,2.5),(-72,3),(-44,2),(-16,2.5),(12,2),(40,1.5),(68,2.5),(98,2),(128,1.5),(160,1),(195,1.5),(223,1)]),
(1.5,[(-173,2),(-143,2.5),(-113,3),(-85,2),(-57,3),(-29,2),(-1,3),(27,1.5),(55,2),(85,1.5),(115,2),(145,1.5),(175,1),(205,2),(228,1.5)]),
(1.0,[(-163,2),(-133,3),(-103,2.5),(-75,3),(-47,3.5),(-19,2.5),(9,2),(37,2.5),(65,1.5),(95,2),(125,2.5),(155,1.5),(185,2),(233,1)]),
(0.5,[(-158,2.5),(-128,3),(-98,3.5),(-70,3),(-42,2.5),(-14,1.5),(14,3),(42,2),(70,2.5),(100,1.5),(130,2),(160,2.5),(195,1.5),(233,1.5)]),
(0.0,[(-158,2),(-128,3.5),(-98,3),(-70,2.5),(-42,3),(-14,1),(14,2.5),(42,3),(70,1.5),(100,2),(130,1.5),(160,2),(195,1),(233,1)]),
(-0.5,[(-163,2.5),(-133,3),(-103,2),(-75,3),(-47,2.5),(-19,1),(9,3),(37,2),(65,2.5),(95,1.5),(125,2),(155,1.5),(190,1),(233,1.5)]),
(-1.0,[(-168,2),(-138,3),(-108,3.5),(-80,2.5),(-52,3),(-24,2),(4,1),(32,2.5),(62,2),(92,2.5),(122,1.5),(152,2),(185,1.5),(238,1)]),
(-1.5,[(-168,2.5),(-138,2),(-108,3),(-80,3.5),(-52,2.5),(-24,3),(4,2),(32,1.5),(62,2.5),(92,2),(122,2.5),(152,1.5),(185,2),(243,1)]),
(-2.0,[(-173,3),(-143,2.5),(-113,3.5),(-85,3),(-57,3.5),(-29,2.5),(-1,3),(27,2),(57,1.5),(87,2.5),(117,2),(147,2.5),(180,1.5),(215,2),(248,1)]),
(-2.5,[(-173,3.5),(-143,3),(-113,3.5),(-85,4),(-57,3),(-29,3.5),(-1,2.5),(27,3),(57,2),(87,2.5),(117,2),(147,1.5),(180,2),(215,1.5),(248,2)]),
(-3.0,[(-178,3),(-148,3.5),(-118,3),(-88,3.5),(-60,3),(-32,2.5),(-4,3),(24,2),(54,2.5),(84,1.5),(114,2),(146,2.5),(180,1.5),(215,2),(248,2)]),
(-3.5,[(-183,3.5),(-153,3),(-123,2.5),(-93,3),(-65,3.5),(-37,3),(-9,2.5),(19,3),(49,2),(79,2.5),(109,1.5),(140,2),(175,2.5),(210,1.5),(253,2)]),
(-4.0,[(-188,3),(-158,2.5),(-128,3),(-98,3.5),(-70,2.5),(-42,3),(-14,2),(14,2.5),(44,3),(74,2),(104,2.5),(135,1.5),(170,2),(210,2.5),(253,2)]),
(-4.5,[(-188,3.5),(-158,3),(-128,2),(-98,3),(-70,3.5),(-42,2.5),(-14,3),(14,2),(44,2.5),(74,1.5),(104,2),(135,2.5),(170,1.5),(205,2),(243,2.5)]),
(-5.0,[(-178,3),(-148,2.5),(-118,3),(-90,2),(-62,2.5),(-34,3),(-6,1.5),(22,2.5),(52,3),(82,2),(112,1.5),(142,2),(175,2.5),(233,2)]),
(-5.5,[(-158,2.5),(-128,3),(-98,2.5),(-70,3),(-42,2),(-14,1),(14,3),(44,2),(74,2.5),(104,1.5),(134,2),(170,2.5),(208,2)]),
(-6.0,[(-133,3),(-103,3.5),(-75,2.5),(-47,2),(-19,2.5),(9,1.5),(37,2.5),(67,2),(97,1),(127,2),(168,2)]),
(-6.5,[(-118,3),(-88,2.5),(-60,2),(-32,1),(-4,2),(24,2.5),(54,1.5),(84,2),(114,1),(143,1.5)]),
(-7.0,[(-68,2),(-38,1),(-10,2.5),(18,2),(48,1.5),(78,2),(113,1)]),
]

# histogram counts per bin
nonfrontal_counts = [230,535,770,1270,1515,1715,2125,2200,1975,1780,1090,935,475,370,305,215,170,85,30,30,15,5,30,2,10,8,12,28]
fronts_counts = [235,608,980,910,850,835,790,733,477,383,225,192,85,42,25,22,15,8,6,9,3,3,3,2,2,2,2,2,5]

scatter_titles = ['Nonfrontal regions', 'Sub-mesoscale SST Fronts']
hist_titles = ['Nonfrontal regions', 'Sub-mesoscale SST Fronts']
panel_letters = ['(A)', '(B)', '(C)']


def px_axes(left, top, right, bottom):
    return fig.add_axes([left / W, 1 - bottom / H, (right - left) / W, (bottom - top) / H])


fig = plt.figure(figsize=(W / 100, H / 100), dpi=100)

panels = [(108, 345, 382, 418, A_core, A_sparse, A_specks, A_red_x, A_red_y),
          (567, 803, 841, 876, B_core, B_sparse, B_specks, B_red_x, B_red_y)]
title_centres = [226, 713]
dark = '#404040'
text_c = '#262626'
for i, (l, r, cl, cr, core, sparse, specks, red_x, red_y) in enumerate(panels):
    ax = px_axes(l, 50, r, 685)
    ax.set_xlim(-500, 500)
    ax.set_ylim(-15, 30)
    ax.grid(True, color='#dcdcdc', lw=1.3)
    ax.set_axisbelow(True)

    core_x = [p[0] for row in core for p in row[1]]
    core_y = [row[0] for row in core for p in row[1]]
    core_c = [p[1] for row in core for p in row[1]]
    ax.scatter(core_x, core_y, c=core_c, s=30, cmap='gray', vmin=0, vmax=10, linewidths=0, zorder=2)
    kx, ky, kc = zip(*specks)
    ax.scatter(kx, ky, c=kc, s=8, cmap='gray', vmin=0, vmax=10, linewidths=0, zorder=3)
    sx, sy, sc = zip(*sparse)
    ax.scatter(sx, sy, c=sc, s=8, cmap='gray', vmin=0, vmax=10, linewidths=0, zorder=3)
    ax.plot(red_x, red_y, '+', color='#ff0000', ms=10, mew=2.8, zorder=4)

    ax.set_xticks([-500, 0, 500])
    ax.set_yticks(np.arange(-15, 31, 5))
    ax.tick_params(direction='in', length=4, width=1, color=dark, labelsize=16,
                   labelcolor=text_c)
    ax.tick_params(axis='x', pad=9)
    ax.tick_params(axis='y', pad=6)
    ax.spines['left'].set_color(dark)
    ax.spines['bottom'].set_color(dark)
    ax.spines['left'].set_linewidth(1.3)
    ax.spines['bottom'].set_linewidth(1.3)
    ax.spines['top'].set_color('#dcdcdc')
    ax.spines['right'].set_color('#dcdcdc')
    ax.set_xlabel('Prey catch atempt depth anomaly (m)', fontsize=17.6, color=text_c, labelpad=6)
    ax.set_ylabel('Prey catch atempt number anomaly (per dive)', fontsize=17.6, color=text_c, labelpad=4)
    fig.text(title_centres[i] / W, 1 - 36 / H, scatter_titles[i], fontsize=18.2, fontweight='bold', ha='center')

    cax = px_axes(cl, 50, cr, 685)
    cax.imshow(np.linspace(1, 0, 64).reshape(-1, 1), cmap='gray', vmin=0, vmax=1,
               aspect='auto', extent=[0, 1, 0, 10])
    cax.set_xticks([])
    cax.set_yticks(range(0, 11))
    cax.yaxis.tick_right()
    cax.tick_params(direction='in', length=5, width=1, color=dark, labelsize=16,
                    labelcolor=text_c, pad=6)
    for s in cax.spines.values():
        s.set_color('#777777')

hist_data = [(853, 1107, nonfrontal_counts, 2500, 500), (1206, 1460, fronts_counts, 1000, 200)]
for i, (top, bottom, counts, ymax, ystep) in enumerate(hist_data):
    ax = px_axes(104, top, 875, bottom)
    n = len(counts)
    edges = [10 * k / n for k in range(n)]
    ax.bar(edges, counts, width=10 / n, align='edge', color='#656565', edgecolor='#1a1a1a', linewidth=0.8)
    ax.set_xlim(0, 10)
    ax.set_ylim(0, ymax)
    ax.set_xticks(range(0, 11))
    ax.set_yticks(np.arange(0, ymax + 1, ystep))
    ax.tick_params(direction='in', length=7, width=1, top=True, right=True,
                   labelsize=15.3, labelcolor=text_c, pad=7)
    ax.tick_params(axis='x', pad=10)
    ax.set_xlabel('Horizontal tracking velocity (km/h)', fontsize=15.5, color=text_c, labelpad=5)
    ax.set_ylabel('Number of dives', fontsize=15.3, color=text_c, labelpad=3)
    ax.set_title(hist_titles[i], fontsize=15.3, fontweight='bold', pad=5)

fig.text(10 / W, 1 - 36 / H, panel_letters[0], fontsize=19, color=text_c)
fig.text(469 / W, 1 - 36 / H, panel_letters[1], fontsize=19, color=text_c)
fig.text(10 / W, 1 - 821 / H, panel_letters[2], fontsize=19, color=text_c)

fig.savefig('out.png', dpi=100)
